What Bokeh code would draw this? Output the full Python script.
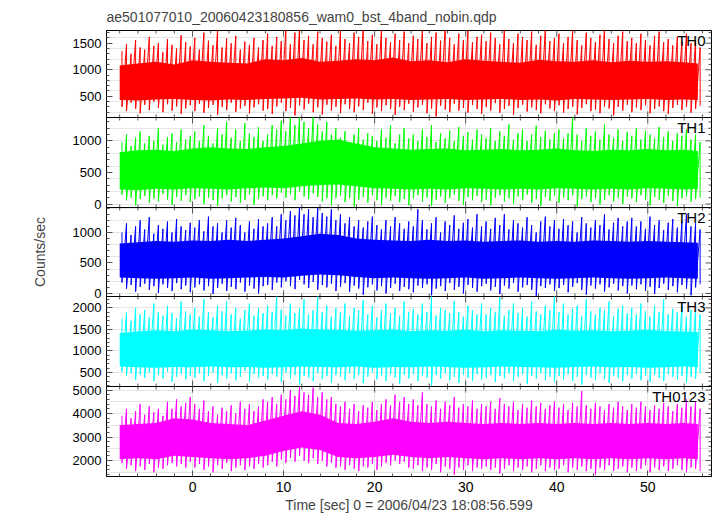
import numpy as np
from bokeh.plotting import figure
from bokeh.models import Range1d, LinearAxis, SingleIntervalTicker, Label
from bokeh.layouts import column
from bokeh.embed import file_html
from bokeh.resources import INLINE

title_text = "ae501077010_20060423180856_wam0_bst_4band_nobin.qdp"
x_label = "Time [sec] 0 = 2006/04/23 18:08:56.599"
y_label = "Counts/sec"
band_names = ["TH0", "TH1", "TH2", "TH3", "TH0123"]
band_colors = ["#ff0000", "#00ff00", "#0000ff", "#00ffff", "#ff00ff"]
y_limits = [(100, 1740), (-55, 1370), (-50, 1410), (175, 2265), (1320, 5150)]
y_major = [500, 500, 500, 500, 1000]
x_limits = (-9.45, 57.0)
x_major = 10

# half-second bins (centres) for the extremes, two-second samples for the dense core
time_bin = np.arange(-7.75, 56.0, 0.5)
time_core = np.array(list(range(-8, 56, 2)) + [55.5])

# ---- TH0 ----
th0_hi = [1350,1480,1300,1560,1420,1380,1620,1450,1500,1330,1580,1470,1400,1650,1520,1440,
          1600,1380,1700,1550,1460,1760,1420,1590,1500,1640,1380,1530,1470,1600,1420,1560,
          1680,1450,1620,1540,1760,1480,1700,1800,1560,1640,1480,1720,1600,1530,1660,1450,
          1750,1580,1500,1700,1620,1800,1540,1660,1480,1760,1600,1520,1680,1560,1720,1500,
          1640,1580,1760,1500,1620,1700,1550,1800,1600,1480,1680,1560,1740,1520,1620,1660,
          1540,1700,1600,1480,1760,1580,1500,1680,1620,1560,1720,1470,1640,1800,1540,1600,
          1680,1500,1620,1740,1560,1460,1700,1600,1520,1660,1800,1580,1500,1640,1720,1540,
          1600,1500,1680,1560,1460,1640,1720,1520,1580,1460,1620,1540,1680,1500,1560,1420]
th0_lo = [300,220,380,260,180,340,240,400,280,200,350,230,310,170,270,330,
          220,360,190,280,340,150,300,240,380,210,270,320,180,290,350,230,
          260,170,310,380,220,280,140,330,250,360,200,290,160,340,230,300,
          180,350,260,200,310,240,380,170,290,220,330,260,150,300,240,360,
          210,290,340,180,270,120,320,250,200,360,230,280,190,340,260,170,
          300,230,370,190,260,320,150,280,340,210,290,240,180,350,270,220,
          330,190,260,300,160,280,350,220,250,180,310,270,140,300,230,340,
          200,290,240,330,180,260,310,220,170,280,340,240,300,190,260,320]
th0_core_hi = [1080,1120,1150,1100,1180,1150,1130,1120,1200,1180,1220,1150,1170,1200,1180,1230,
               1160,1180,1140,1200,1170,1150,1130,1190,1160,1150,1180,1140,1170,1150,1160,1140,1120]
th0_core_lo = [430,420,440,450,430,420,440,430,450,460,470,440,450,460,440,450,
               430,440,450,430,440,450,430,440,420,450,440,430,440,450,430,440,430]

# ---- TH1 ----
th1_hi = [980,1100,920,1050,1150,960,1080,1000,1200,940,1060,1120,980,1180,1020,1080,
          1150,1000,1250,1080,960,1200,1100,1300,1050,1180,1000,1280,1120,1060,1220,1000,
          1100,1250,1180,1320,1150,1380,1250,1400,1300,1200,1380,1260,1150,1300,1100,1200,
          1050,1150,980,1100,1200,1020,1120,1080,1000,1180,1050,1250,960,1100,1200,1040,
          1100,1000,1180,1060,1250,980,1120,1040,1160,1000,1220,1080,1140,1020,1180,1100,
          1040,1200,1000,1150,1080,1260,1020,1120,1180,1000,1100,1240,1060,1160,1020,1120,
          1180,1040,1120,1380,1100,1000,1200,1080,1150,1020,1260,1100,1050,1180,1000,1140,
          1080,1200,1020,1160,1100,1040,1220,1060,1150,1000,1120,1080,1180,1020,1100,980]
th1_lo = [150,60,100,-20,80,130,20,90,40,160,70,-10,110,50,140,30,
          80,120,0,100,60,-30,90,140,40,110,20,70,150,-10,80,120,
          60,140,90,180,100,150,60,200,120,80,170,110,40,90,-20,100,
          130,30,90,-40,70,110,20,140,60,-10,100,50,130,30,80,-20,
          90,140,40,100,-30,70,120,20,90,150,50,-10,110,60,130,30,
          70,-20,100,140,40,90,0,120,60,150,20,80,-30,110,50,130,
          20,100,60,140,-40,80,120,30,90,-10,70,140,40,100,0,120,
          90,30,140,60,-20,110,70,20,130,50,-30,90,120,40,80,100]
th1_core_hi = [820,850,860,840,880,900,880,870,900,920,960,1000,1020,960,900,880,
               860,870,880,850,860,870,850,860,880,850,840,860,850,870,850,860,840]
th1_core_lo = [230,220,240,230,250,240,230,250,260,250,280,300,310,280,250,240,
               230,240,230,250,240,230,240,230,250,240,230,240,230,250,240,230,240]

# ---- TH2 ----
th2_hi = [1000,1150,960,1100,1200,1050,1250,980,1120,1060,1180,1000,1220,1100,1040,1160,
          1080,1200,1020,1260,1100,1150,1000,1200,1080,1240,1120,1000,1180,1060,1220,1100,
          1150,1250,1100,1300,1200,1350,1280,1420,1300,1380,1250,1400,1320,1260,1380,1200,
          1300,1150,1250,1100,1200,1080,1180,1260,1120,1050,1200,1100,1250,1150,1060,1180,
          1100,1380,1200,1050,1150,1250,1000,1180,1120,1280,1060,1160,1220,1080,1300,1100,
          1180,1060,1240,1120,1300,1050,1200,1150,1080,1250,1120,1000,1180,1260,1100,1200,
          1060,1220,1120,1180,1000,1250,1150,1080,1200,1120,1300,1050,1160,1240,1100,1180,
          1240,1100,1180,1060,1260,1120,1200,1040,1160,1220,1080,1180,1300,1100,1150,1050]
th2_lo = [180,80,140,30,110,160,60,120,10,150,90,40,170,70,130,20,
          100,150,50,120,-10,90,160,40,110,70,180,30,130,80,0,120,
          140,60,180,100,200,120,70,220,150,90,190,60,140,100,160,40,
          110,170,30,130,80,-20,100,150,50,120,0,90,160,40,110,70,
          20,130,90,150,-30,80,120,40,170,60,110,0,140,90,30,120,
          160,50,110,-10,130,80,170,30,100,140,60,-40,120,90,150,40,
          90,140,20,110,170,60,-20,130,80,150,30,100,160,50,120,0,
          130,70,150,40,110,-10,90,160,60,120,20,140,80,-30,100,150]
th2_core_hi = [820,840,860,850,870,860,880,860,880,900,940,980,960,900,880,870,
               860,880,860,870,850,860,870,850,860,850,870,860,850,860,850,840,830]
th2_core_lo = [260,250,240,250,260,240,250,260,270,260,290,310,300,270,250,260,
               250,240,250,260,240,250,260,250,240,250,260,250,240,250,260,250,240]

# ---- TH3 ----
th3_hi = [1750,1900,1700,2000,1850,1950,1780,2100,1900,1820,2050,1880,1760,2150,1920,1850,
          2000,1800,2200,1900,1780,2050,1920,2150,1850,2000,1750,1950,2100,1820,2000,1880,
          2050,1900,2270,1960,1820,2100,1880,2000,2200,1850,1950,2270,1900,2050,1800,2000,
          1900,2100,1820,2000,1950,2180,1850,2050,1780,1950,2100,1880,2000,1820,2150,1900,
          1980,1850,2100,1900,2270,1820,2000,1950,1880,2150,1900,1800,2050,1950,1850,2100,
          1850,2000,1900,2250,1820,1950,2100,1880,2000,1800,2150,1920,1850,2050,1950,2270,
          1900,2100,1850,1980,2050,1800,2200,1920,1850,2000,1950,2150,1820,1980,2050,1880,
          2000,1850,2100,1920,1800,2050,1900,2200,1850,1980,1900,2050,1800,1950,2000,1850]
th3_lo = [520,420,480,330,450,380,500,300,440,360,520,280,400,470,350,430,
          380,480,300,420,500,260,440,360,480,320,400,540,280,460,380,420,
          340,460,400,280,500,360,440,220,420,380,300,480,350,420,260,440,
          400,320,480,360,440,250,400,500,340,420,300,460,380,240,440,360,
          460,300,420,380,200,440,360,480,320,400,260,440,380,300,460,340,
          380,440,280,420,360,480,300,400,460,240,420,360,480,320,400,280,
          420,340,460,300,400,220,440,380,320,480,360,260,420,380,300,440,
          360,460,320,420,280,440,380,300,460,400,340,420,260,400,360,480]
th3_core_hi = [1420,1450,1480,1460,1500,1480,1460,1470,1500,1480,1520,1500,1490,1470,1480,1500,
               1460,1480,1470,1490,1460,1480,1470,1460,1490,1470,1480,1460,1470,1490,1460,1450,1440]
th3_core_lo = [640,620,610,630,620,640,620,630,610,620,640,630,620,640,610,630,
               620,640,630,610,620,640,630,620,610,630,640,620,630,610,620,640,630]

# ---- TH0123 ----
th0123_hi = [3900,4200,3800,4100,4400,3950,4300,4050,4200,3900,4500,4200,4600,4300,4450,4700,
             4400,4200,4550,4100,4300,3950,4250,4100,4350,4000,4500,4200,4400,4100,4300,4600,
             4500,4700,4400,4800,4600,5000,4750,5150,4900,4800,5100,4700,4900,4600,4700,4400,
             4300,4500,4200,4400,4100,4350,4250,4500,4150,4400,4600,4350,4800,4500,4700,4400,
             4600,4350,4900,4400,4300,4550,4200,4500,4350,4700,4250,4400,4300,4550,4200,4400,
             4300,4500,4200,4650,4400,4300,4500,4150,4400,4250,4550,4300,4450,4200,4350,4500,
             4250,4400,4150,4450,4300,4950,4350,4200,4450,4300,4150,4400,4250,4500,4300,4150,
             4400,4250,4500,4300,4150,4350,4200,4450,4300,4100,4400,4250,4600,4300,4500,4200]
th0123_lo = [1900,1650,1800,1550,1750,1600,1850,1500,1700,1650,1800,1900,1750,1850,1700,1950,
             1700,1850,1600,1750,1500,1800,1650,1900,1550,1700,1800,1600,1750,1650,1850,1700,
             1800,1950,1750,2050,1900,2100,1950,2200,2000,1900,2100,1850,2000,1750,1900,1700,
             1750,1600,1800,1650,1550,1750,1700,1850,1600,1750,1900,1800,2000,1850,1950,1700,
             1650,1800,1550,1700,1600,1850,1500,1750,1650,1400,1700,1600,1800,1550,1700,1650,
             1750,1600,1700,1450,1650,1800,1550,1700,1600,1750,1500,1650,1800,1550,1700,1600,
             1650,1800,1500,1700,1600,1750,1550,1650,1400,1700,1600,1800,1550,1650,1750,1500,
             1700,1550,1650,1800,1500,1700,1600,1750,1550,1650,1800,1600,1500,1700,1650,1550]
th0123_core_hi = [3500,3550,3600,3800,3750,3600,3550,3500,3700,3900,4100,3950,3600,3550,3650,3800,
                  3650,3600,3650,3600,3550,3600,3550,3600,3550,3600,3550,3600,3550,3600,3550,3600,3550]
th0123_core_lo = [2050,2100,2050,2200,2150,2100,2050,2100,2200,2400,2550,2450,2150,2100,2150,2250,
                  2150,2100,2150,2100,2050,2100,2050,2100,2050,2100,2050,2100,2050,2100,2050,2100,2050]

series_hi = [th0_hi, th1_hi, th2_hi, th3_hi, th0123_hi]
series_lo = [th0_lo, th1_lo, th2_lo, th3_lo, th0123_lo]
core_hi = [th0_core_hi, th1_core_hi, th2_core_hi, th3_core_hi, th0123_core_hi]
core_lo = [th0_core_lo, th1_core_lo, th2_core_lo, th3_core_lo, th0123_core_lo]

FONT = "Liberation Sans"
TICK_COL = "#555555"
OVERLAP = 8  # transparent strip shared by neighbouring panels so edge labels are not clipped


def labelled_axis(major, font_size):
    ax = LinearAxis(ticker=SingleIntervalTicker(interval=major, num_minor_ticks=5))
    ax.major_tick_in = 6
    ax.major_tick_out = 0
    ax.minor_tick_in = 3
    ax.minor_tick_out = 0
    ax.major_tick_line_color = TICK_COL
    ax.minor_tick_line_color = TICK_COL
    ax.axis_line_color = "black"
    ax.major_label_text_font = FONT
    ax.major_label_text_font_size = font_size
    ax.major_label_text_color = "black"
    ax.major_label_standoff = 5
    return ax


def inward_ticks(p, along, lo, hi, major, edge, angle):
    """Tick marks drawn inward from a frame edge (no labels)."""
    step = major / 5.0
    vals = np.arange(np.ceil(lo / step) * step, hi + 1e-9, step)
    is_major = np.isclose(np.mod(vals + 1e-9, major), 0, atol=1e-6)
    lengths = np.where(is_major, 6, 3)
    if along == "x":
        xs, ys = vals, np.full(len(vals), edge)
    else:
        xs, ys = np.full(len(vals), edge), vals
    p.ray(x=xs, y=ys, length=lengths, length_units="screen", angle=angle,
          line_color=TICK_COL, line_width=1)


frame_heights = [89, 90, 89, 90, 90]
figs = []
for i in range(5):
    top = 28 if i == 0 else OVERLAP
    bottom = 40 if i == 4 else OVERLAP
    ylo, yhi = y_limits[i]
    p = figure(width=717, height=top + frame_heights[i] + bottom,
               x_range=Range1d(*x_limits), y_range=Range1d(ylo, yhi),
               output_backend="svg", toolbar_location=None,
               x_axis_location=None, y_axis_location=None,
               min_border_left=106, min_border_right=6,
               min_border_top=top, min_border_bottom=bottom)
    p.outline_line_color = "black"
    p.outline_line_width = 1
    p.background_fill_color = "white"
    p.border_fill_color = None
    if i > 0:
        p.styles = {"margin-top": f"-{2 * OVERLAP}px"}

    t = time_bin
    hi = np.array(series_hi[i], dtype=float)
    lo = np.array(series_lo[i], dtype=float)
    zx = np.column_stack([t, t]).ravel()
    zy = np.column_stack([hi, lo]).ravel()
    p.varea(x=time_core, y1=core_lo[i], y2=core_hi[i], fill_color=band_colors[i])
    p.line(x=zx, y=zy, line_color=band_colors[i], line_width=1)

    left = labelled_axis(y_major[i], "13px")
    if i == 2:
        left.axis_label = y_label
        left.axis_label_text_font = FONT
        left.axis_label_text_font_size = "14px"
        left.axis_label_text_font_style = "normal"
        left.axis_label_standoff = 22
    p.add_layout(left, "left")

    inward_ticks(p, "y", ylo, yhi, y_major[i], x_limits[1], np.pi)
    inward_ticks(p, "x", x_limits[0], x_limits[1], x_major, yhi, -np.pi / 2)
    if i == 4:
        below = labelled_axis(x_major, "14px")
        below.major_label_standoff = 5
        below.axis_label = x_label
        below.axis_label_text_font = FONT
        below.axis_label_text_font_size = "14px"
        below.axis_label_text_font_style = "normal"
        below.axis_label_standoff = 2
        p.add_layout(below, "below")
    else:
        inward_ticks(p, "x", x_limits[0], x_limits[1], x_major, ylo, np.pi / 2)

    p.add_layout(Label(x=x_limits[1], y=yhi, x_offset=-6, y_offset=-1,
                       text=band_names[i], text_align="right", text_baseline="top",
                       text_font=FONT, text_font_size="15px", text_color="black"))
    if i == 0:
        p.title.text = title_text
        p.title.align = "left"
        p.title.text_font = FONT
        p.title.text_font_size = "14px"
        p.title.text_font_style = "normal"
        p.title.standoff = 12
    figs.append(p)

layout = column(*figs, spacing=0)
open("out.html", "w").write(file_html(layout, INLINE))
